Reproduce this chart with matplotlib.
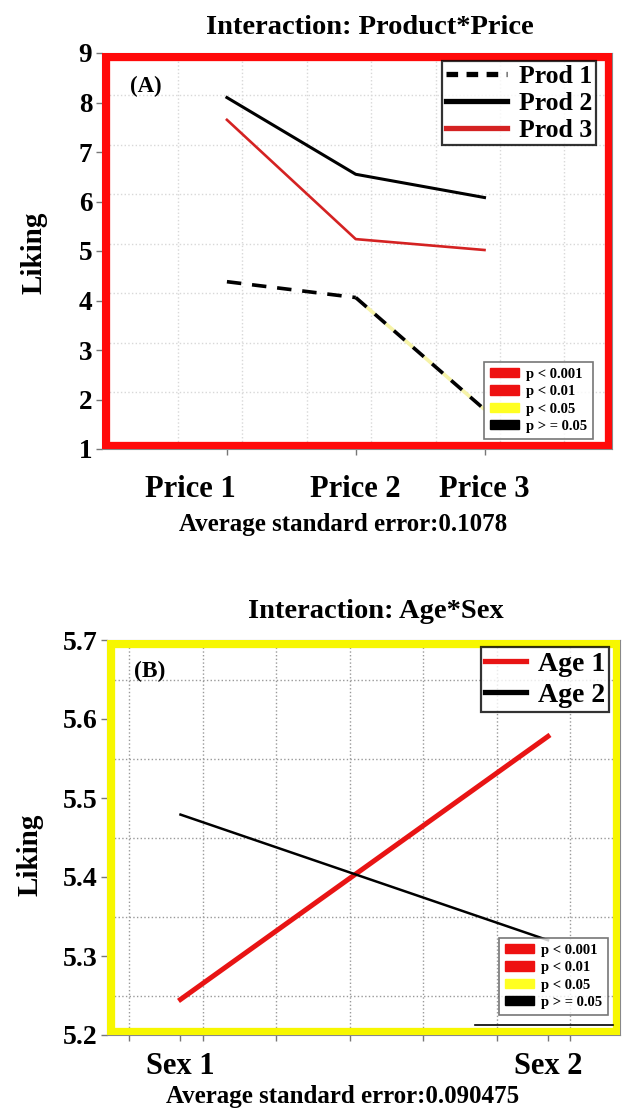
import numpy as np
import matplotlib
matplotlib.use("Agg")
import matplotlib.pyplot as plt
from matplotlib.lines import Line2D
from matplotlib.patches import Patch, Rectangle
import matplotlib.transforms as mtransforms

plt.rcParams['font.family'] = ['Liberation Serif', 'DejaVu Serif']
plt.rcParams['font.weight'] = 'bold'

# ---------------- data ----------------
prices = ["Price 1", "Price 2", "Price 3"]
prod1 = [4.38, 4.06, 1.80]
prod2 = [8.10, 6.55, 6.08]
prod3 = [7.65, 5.24, 5.02]
prod_labels = ["Prod 1", "Prod 2", "Prod 3"]

sexes = ["Sex 1", "Sex 2"]
age1 = [5.245, 5.578]
age2 = [5.479, 5.320]
age_labels = ["Age 1", "Age 2"]

p_labels = ["p < 0.001", "p < 0.01", "p < 0.05", "p > = 0.05"]
p_colors = ["#ee1111", "#ee1111", "#ffff22", "#000000"]

yticksA = [1, 2, 3, 4, 5, 6, 7, 8, 9]
yticksB = [5.2, 5.3, 5.4, 5.5, 5.6, 5.7]

W, H = 628, 1110
fig = plt.figure(figsize=(W / 100, H / 100), dpi=100)

def fx(px):
    return px / W

def fy(py):
    return 1 - py / H

# ---------------- Panel A ----------------
axA = fig.add_axes([fx(102), fy(449), (612 - 102) / W, (449 - 53) / H])
xA = np.arange(1, len(prices) + 1)
for gx in np.arange(0.62, 3.7, 0.5):
    axA.axvline(gx, color='#d8d8d8', ls=':', lw=1.0, zorder=0)
for gy in np.arange(2.15, 8.3, 1.0):
    axA.axhline(gy, color='#d8d8d8', ls=':', lw=1.0, zorder=0)

axA.plot(xA[:2], prod1[:2], color='black', lw=2.6, ls=(0, (4, 3)), zorder=3)
axA.plot(xA[1:], prod1[1:], color='black', lw=2.6, ls=(0, (4, 3)),
         gapcolor='#f6f3a8', zorder=3)
axA.plot(xA, prod2, color='black', lw=2.2, zorder=3)
axA.plot(xA, prod3, color='#d42222', lw=1.9, zorder=3)

axA.set_xlim(0.03, 3.99)
axA.set_ylim(1, 9)
axA.set_xticks(xA)
axA.set_xticklabels(prices, fontsize=22, fontweight='bold')
axA.set_yticks(yticksA)
axA.set_yticklabels([str(v) for v in yticksA], fontsize=19.5, fontweight='bold')
axA.tick_params(axis='both', direction='out', length=4, color='#777777', width=1)
axA.tick_params(axis='x', pad=15)
axA.tick_params(axis='y', pad=3)
off = mtransforms.ScaledTranslation(-37 / 100, 0, fig.dpi_scale_trans)
lab0 = axA.get_xticklabels()[0]
lab0.set_transform(lab0.get_transform() + off)
for s in axA.spines.values():
    s.set_color('#888888')
    s.set_linewidth(0.8)
axA.add_patch(Rectangle((0, 0), 1, 1, transform=axA.transAxes, fill=False,
                        ec='#ff0a0a', lw=11, zorder=5))
axA.text(0.085, 0.915, "(A)", transform=axA.transAxes, fontsize=16.5,
         fontweight='bold', ha='center', va='center')

handlesA = [Line2D([], [], color='black', lw=3.8, ls=(0, (2.2, 1.6))),
            Line2D([], [], color='black', lw=3.8),
            Line2D([], [], color='#d42222', lw=3.8)]
legA = axA.legend(handlesA, prod_labels, loc='upper right',
                  bbox_to_anchor=(fx(596), fy(61)), bbox_transform=fig.transFigure,
                  fontsize=18.5, frameon=True, fancybox=False, edgecolor='black',
                  handlelength=2.4, handletextpad=0.45, borderpad=0.15,
                  labelspacing=0.15, borderaxespad=0)
legA.get_frame().set_linewidth(1.6)
for t in legA.get_texts():
    t.set_fontweight('bold')
axA.add_artist(legA)

pA = axA.legend([Patch(color=c) for c in p_colors], p_labels, loc='upper right',
                bbox_to_anchor=(fx(593), fy(362)), bbox_transform=fig.transFigure,
                fontsize=10.5, frameon=True, fancybox=False, edgecolor='#555555',
                handlelength=2.0, handleheight=0.6, handletextpad=0.5,
                borderpad=0.4, labelspacing=0.3, borderaxespad=0)
pA.get_frame().set_linewidth(1.2)
for t in pA.get_texts():
    t.set_fontweight('bold')

fig.text(fx(370), fy(28), "Interaction: Product*Price", fontsize=20.5,
         fontweight='bold', ha='center', va='center')
fig.text(fx(34), fy(253), "Liking", fontsize=21, fontweight='bold',
         rotation=90, ha='center', va='center')
fig.text(fx(343), fy(524), "Average standard error:0.1078", fontsize=18,
         fontweight='bold', ha='center', va='center')

# ---------------- Panel B ----------------
axB = fig.add_axes([fx(107), fy(1035), (620 - 107) / W, (1035 - 640) / H])
xB = np.arange(1, len(sexes) + 1)
for gx in np.arange(0.86, 2.1, 0.2):
    axB.axvline(gx, color='#999999', ls=':', lw=1.0, zorder=0)
for gy in np.arange(5.25, 5.7, 0.1):
    axB.axhline(gy, color='#999999', ls=':', lw=1.0, zorder=0)

axB.plot(xB, age1, color='#e81414', lw=3.6, zorder=3)
axB.plot(xB, age2, color='black', lw=1.8, zorder=3)

axB.set_xlim(0.80, 2.196)
axB.set_ylim(5.2, 5.7)
axB.set_xticks(xB)
axB.set_xticklabels(sexes, fontsize=22, fontweight='bold')
axB.set_xticks(np.arange(0.86, 2.1, 0.2), minor=True)
axB.set_yticks(yticksB)
axB.set_yticklabels([f"{v:.1f}" for v in yticksB], fontsize=20, fontweight='bold')
axB.tick_params(axis='both', which='both', direction='out', length=4,
                color='#777777', width=1)
axB.tick_params(axis='x', pad=8)
axB.tick_params(axis='y', pad=3)
for s in axB.spines.values():
    s.set_color('#888888')
    s.set_linewidth(0.8)
axB.add_patch(Rectangle((0, 0), 1, 1, transform=axB.transAxes, fill=False,
                        ec='#f7f700', lw=11, zorder=5))
axB.plot([0.717, 0.986], [0.025, 0.025], transform=axB.transAxes,
         color='black', lw=1.2, zorder=6)
axB.text(0.083, 0.92, "(B)", transform=axB.transAxes, fontsize=17,
         fontweight='bold', ha='center', va='center')

handlesB = [Line2D([], [], color='#e81414', lw=3.8),
            Line2D([], [], color='black', lw=3.8)]
legB = axB.legend(handlesB, age_labels, loc='upper right',
                  bbox_to_anchor=(fx(609), fy(647)), bbox_transform=fig.transFigure,
                  fontsize=20, frameon=True, fancybox=False, edgecolor='black',
                  handlelength=1.5, handletextpad=0.4, borderpad=0.15,
                  labelspacing=0.2, borderaxespad=0)
legB.get_frame().set_linewidth(1.6)
for t in legB.get_texts():
    t.set_fontweight('bold')
axB.add_artist(legB)

pB = axB.legend([Patch(color=c) for c in p_colors], p_labels, loc='upper right',
                bbox_to_anchor=(fx(608), fy(938)), bbox_transform=fig.transFigure,
                fontsize=10.5, frameon=True, fancybox=False, edgecolor='#555555',
                handlelength=2.0, handleheight=0.6, handletextpad=0.5,
                borderpad=0.4, labelspacing=0.3, borderaxespad=0)
pB.get_frame().set_linewidth(1.2)
for t in pB.get_texts():
    t.set_fontweight('bold')

fig.text(fx(376), fy(612), "Interaction: Age*Sex", fontsize=20.5,
         fontweight='bold', ha='center', va='center')
fig.text(fx(30), fy(855), "Liking", fontsize=21, fontweight='bold',
         rotation=90, ha='center', va='center')
fig.text(fx(343), fy(1097), "Average standard error:0.090475", fontsize=18,
         fontweight='bold', ha='center', va='center')

fig.savefig("out.png", dpi=100)
